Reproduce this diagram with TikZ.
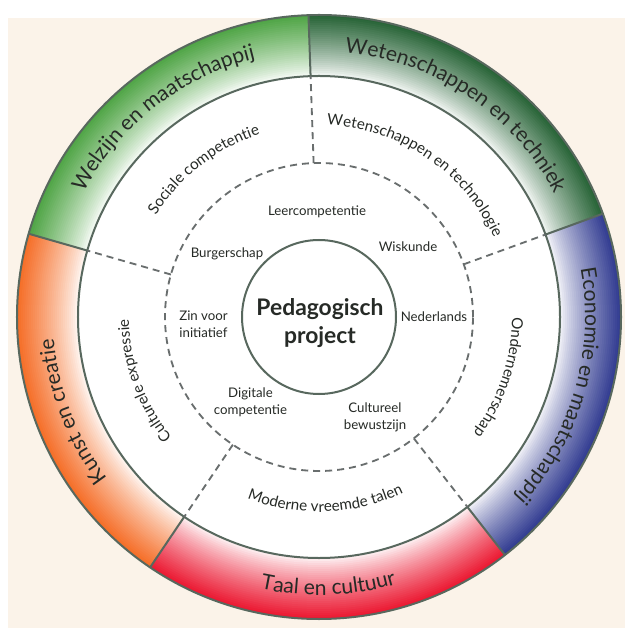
\documentclass[tikz,border=0pt]{standalone}
\usepackage{fontspec}
\setmainfont{Lato}
\usetikzlibrary{decorations.text,shapes,positioning}

\definecolor{txt}{RGB}{38,42,38}
\definecolor{rim}{RGB}{88,104,94}
\definecolor{dashgray}{RGB}{105,110,110}
\definecolor{bgcream}{RGB}{251,243,233}
\definecolor{welgreen}{RGB}{80,165,70}
\definecolor{wetgreen}{RGB}{40,100,55}
\definecolor{ecoblue}{RGB}{50,60,145}
\definecolor{taalred}{RGB}{235,25,50}
\definecolor{kunstorange}{RGB}{245,110,40}

\newcommand\outerfont{\fontsize{18}{21}\selectfont}
\newcommand\midfont{\fontsize{13}{15}\selectfont}
\newcommand\innerfont{\fontsize{11.3}{14.5}\selectfont}
\newcommand\corefont{\bfseries\fontsize{19.5}{24}\selectfont}

\tikzset{
  rimline/.style={draw=rim, line width=0.6mm},
  sectorcut/.style={draw=dashgray, line width=0.55mm, dash pattern=on 2.1mm off 1.5mm},
  outerarc/.style={decorate, decoration={text along path, text align=center, text color=txt, text={|\outerfont|#1}}},
  midarc/.style={decorate, decoration={text along path, text align=center, text color=txt, text={|\midfont|#1}}},
  subject/.style={font=\innerfont, text=txt, align=center, inner sep=1pt}
}

\begin{document}
\begin{tikzpicture}[x=0.3mm, y=0.3mm]
    \useasboundingbox (-319,-311) rectangle (306,317);
    \fill[white] (-319,-311) rectangle (306,317);
    \fill[bgcream] (-311,-311) rectangle (306,299);

    \foreach \col/\a/\b in {wetgreen/20/92, welgreen/92/164, kunstorange/164/236, taalred/236/308, ecoblue/308/380}{
        \begin{scope}
            \clip (0,0) -- (\a:320) arc[start angle=\a, end angle=\b, radius=320] -- cycle;
            \foreach \i in {0,...,30}{
                \pgfmathsetmacro\r{302-\i*2}
                \pgfmathsetmacro\pct{100*pow(max((\r-241)/61,0)+0.001,0.8)}
                \fill[\col!\pct!white] (0,0) circle (\r);
            }
        \end{scope}
    }
    \fill[white] (0,0) circle (241);
    \draw[rimline] (0,0) circle (302);
    \draw[rimline] (0,0) circle (241);
    \draw[sectorcut] (0,0) circle (154);
    \foreach \a in {20,92,164,236,308}{
        \draw[rimline] (\a:241) -- (\a:302);
        \draw[sectorcut] (\a:154) -- (\a:241);
    }

    \path[outerarc={Welzijn en maatschappij}] (164:266) arc[start angle=164, end angle=92, radius=266];
    \path[outerarc={Wetenschappen en techniek}] (92:266) arc[start angle=92, end angle=20, radius=266];
    \path[outerarc={Economie en maatschappij}] (20:266) arc[start angle=20, end angle=-52, radius=266];
    \path[outerarc={Taal en cultuur}] (236:278) arc[start angle=236, end angle=308, radius=278];
    \path[outerarc={Kunst en creatie}] (237:266) arc[start angle=237, end angle=165, radius=266];

    \path[midarc={Sociale competentie}] (164:192) arc[start angle=164, end angle=92, radius=192];
    \path[midarc={Wetenschappen en technologie}] (92:192) arc[start angle=92, end angle=20, radius=192];
    \path[midarc={Ondernemerschap}] (17.5:193) arc[start angle=17.5, end angle=-54.5, radius=193];
    \path[midarc={Moderne vreemde talen}] (236:195) arc[start angle=236, end angle=308, radius=195];
    \path[midarc={Culturele expressie}] (236:190) arc[start angle=236, end angle=164, radius=190];

    \node[circle, rimline, minimum size=46.2mm, inner sep=0pt] (core) at (0,0) {};
    \node[font=\corefont, text=txt, align=center] (coretitle) at (1,-6) {Pedagogisch\\project};

    \node[subject] (leer) at (-2,105) {Leercompetentie};
    \node[subject] (burger) at (-92,63) {Burgerschap};
    \node[subject] (wiskunde) at (89,70) {Wiskunde};
    \node[subject] (zin) at (-115.5,-7.5) {Zin voor\\initiatief};
    \node[subject] (nederlands) at (115,0) {Nederlands};
    \node[subject] (digitaal) at (-68.5,-85.5) {Digitale\\competentie};
    \node[subject] (cultureel) at (56,-100.5) {Cultureel\\bewustzijn};
\end{tikzpicture}
\end{document}
